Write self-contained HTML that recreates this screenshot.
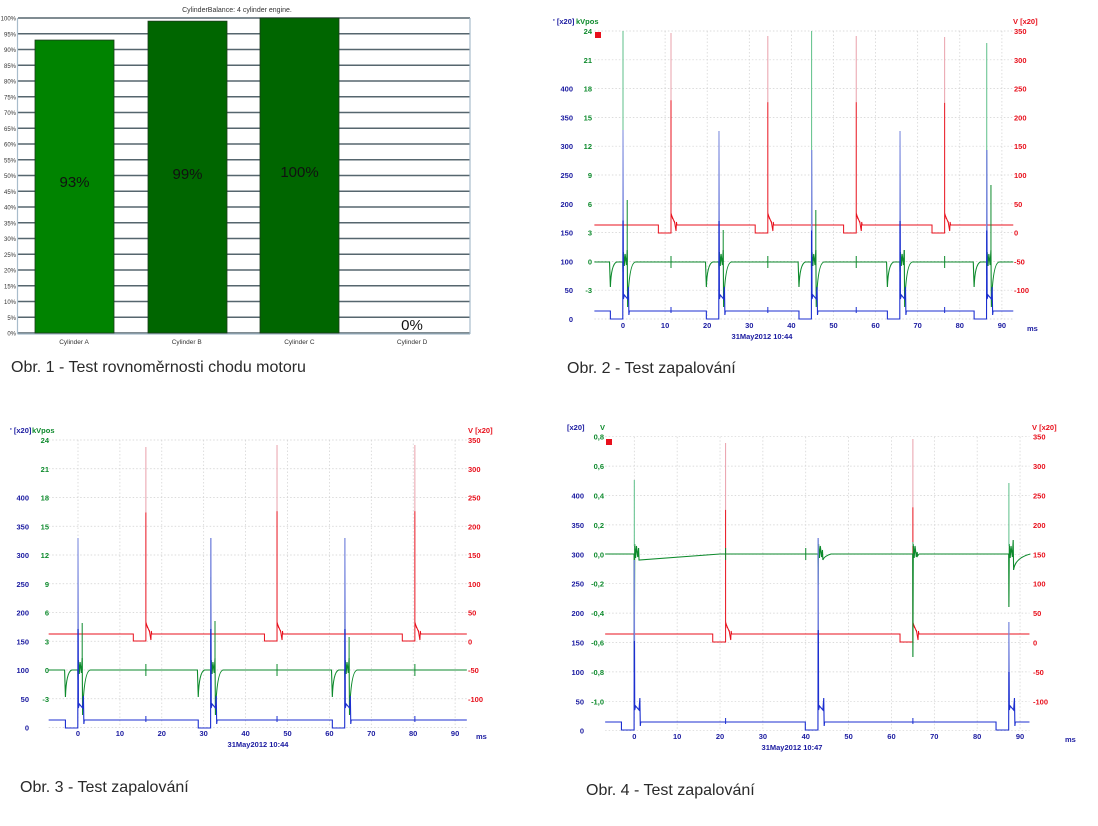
<!DOCTYPE html>
<html><head><meta charset="utf-8"><style>
html,body{margin:0;padding:0;background:#fff}
svg{display:block}
.t{font-family:"Liberation Sans",sans-serif}
.cap{font-family:"Liberation Sans",sans-serif;font-size:16px;fill:#2a2a2a}
.tk{font-family:"Liberation Sans",sans-serif;font-size:7.5px;font-weight:bold}
</style></head><body>
<svg id="s" width="1098" height="826" viewBox="0 0 1098 826" xmlns="http://www.w3.org/2000/svg">
<g id="c1">
<text x="237" y="12" class="t" font-size="7" text-anchor="middle" fill="#333">CylinderBalance: 4 cylinder engine.</text>
</g>
<text x="11" y="372" class="cap">Obr. 1 - Test rovnoměrnosti chodu motoru</text>
<text x="567" y="373" class="cap">Obr. 2 - Test zapalování</text>
<text x="20" y="792" class="cap">Obr. 3 - Test zapalování</text>
<text x="586" y="795" class="cap">Obr. 4 - Test zapalování</text>
</svg>
<script>
var s=document.getElementById('s');var out='';
var c1='';
for(var p=0;p<=100;p+=5){var y=333-p*3.15;
 c1+='<line x1="18" x2="470" y1="'+y+'" y2="'+y+'" stroke="#56666e" stroke-width="1.5"/>';
 c1+='<text x="16" y="'+(y+2.5)+'" class="t" font-size="6" text-anchor="end" fill="#333">'+p+'%</text>';}
c1+='<line x1="17.5" x2="17.5" y1="18" y2="334" stroke="#a8bccb" stroke-width="1.2"/><line x1="470" x2="470" y1="18" y2="334" stroke="#a8bccb" stroke-width="1.2"/><line x1="17.5" x2="470" y1="334" y2="334" stroke="#a8bccb" stroke-width="1.2"/>';
var bars=[[35,93,'#008300','93%',187],[148,99,'#006600','99%',179],[260,100,'#006600','100%',177]];
bars.forEach(function(b){var y=333-b[1]*3.15;c1+='<rect x="'+b[0]+'" y="'+y+'" width="79" height="'+(333-y)+'" fill="'+b[2]+'" stroke="#1a3a1a" stroke-width="0.8"/>';
 c1+='<text x="'+(b[0]+39.5)+'" y="'+b[4]+'" class="t" font-size="15" text-anchor="middle" fill="#111">'+b[3]+'</text>';});
c1+='<text x="412" y="330" class="t" font-size="15" text-anchor="middle" fill="#111">0%</text>';
['A','B','C','D'].forEach(function(l,i){c1+='<text x="'+(74+i*112.7)+'" y="344" class="t" font-size="6.5" text-anchor="middle" fill="#333">Cylinder '+l+'</text>';});
out+=c1;

function scope(c){
 var g='',X=function(t){return c.x0+t*c.k;};
 var xL=X(c.ts),xR=X(c.te);
 for(var i=0;i<=c.n;i++){var y=c.top+i*c.st;g+='<line x1="'+xL+'" x2="'+xR+'" y1="'+y+'" y2="'+y+'" stroke="#d0d0d0" stroke-width="0.7" stroke-dasharray="1.5,2"/>';}
 for(var m=0;m<=90;m+=10){g+='<line x1="'+X(m)+'" x2="'+X(m)+'" y1="'+c.top+'" y2="'+(c.top+c.n*c.st)+'" stroke="#d0d0d0" stroke-width="0.7" stroke-dasharray="1.5,2"/>';
  g+='<text x="'+X(m)+'" y="'+c.xly+'" class="tk" text-anchor="middle" fill="#1a1aa0">'+m+'</text>';}
 c.lab.forEach(function(L){for(var i=0;i<L.v.length;i++){if(L.v[i]==='')continue;var y=c.top+i*c.st+3;
  g+='<text x="'+L.x+'" y="'+y+'" class="tk" text-anchor="'+L.a+'" fill="'+L.c+'">'+L.v[i]+'</text>';}});
 g+=c.extra;
 var rb=c.rb,rd=c.rd,p='M'+xL+','+rb;
 c.re.forEach(function(t){p+=' L'+X(t-3)+','+rb+' L'+X(t-3)+','+rd+' L'+X(t)+','+rd+' L'+X(t)+','+(rb-12)+' L'+X(t+0.4)+','+(rb-6)+' L'+X(t+0.2)+','+(rb-9)+' L'+X(t+0.9)+','+(rb-2)+' L'+X(t+0.8)+','+(rb-4)+' L'+X(t+1.2)+','+(rb+6)+' L'+X(t+1.3)+','+(rb-3)+' L'+X(t+1.4)+','+rb;});
 p+=' L'+xR+','+rb;g+='<path d="'+p+'" fill="none" stroke="#e8101c" stroke-width="1"/>';
 c.re.forEach(function(t,i){var pk=c.rp[i];g+='<line x1="'+X(t)+'" x2="'+X(t)+'" y1="'+pk+'" y2="'+(pk+(rb-pk)*0.35)+'" stroke="#e9a0ab" stroke-width="1"/><line x1="'+X(t)+'" x2="'+X(t)+'" y1="'+(pk+(rb-pk)*0.35)+'" y2="'+(rb-12)+'" stroke="#e8101c" stroke-width="1"/>';});
 var gb=c.gb;p='M'+xL+','+gb;
 c.ge.forEach(function(e){var t=e.t;
  if(e.pre){p+=' L'+X(t-3.2)+','+gb+' L'+X(t-3)+','+e.pre+' Q'+X(t-2.8)+','+(gb+2)+' '+X(t-1.5)+','+gb;}
  p+=' L'+X(t-0.05)+','+gb+' L'+X(t)+','+e.dn+' L'+X(t+0.1)+','+(gb-10)+' L'+X(t+0.3)+','+(gb+4)+' L'+X(t+0.5)+','+(gb-8)+' L'+X(t+0.8)+','+(gb+3)+' L'+X(t+1.0)+','+(e.up2||gb-12)+' L'+X(t+1.1)+','+(e.post||gb+45)+' Q'+X(t+1.4)+','+(e.tailY||gb)+' '+X(t+(e.tailLen||3))+','+gb;
 });
 p+=' L'+xR+','+gb;g+='<path d="'+p+'" fill="none" stroke="#0d8a2c" stroke-width="1.1"/>';
 c.ge.forEach(function(e){g+='<line x1="'+X(e.t)+'" x2="'+X(e.t)+'" y1="'+e.pk+'" y2="'+(gb-8)+'" stroke="#5cbf88" stroke-width="1"/>';
  if(e.pk2)g+='<line x1="'+X(e.t+1)+'" x2="'+X(e.t+1)+'" y1="'+e.pk2+'" y2="'+gb+'" stroke="#0d8a2c" stroke-width="1"/>';});
 (c.gn||[]).forEach(function(t){g+='<line x1="'+X(t)+'" x2="'+X(t)+'" y1="'+(gb-6)+'" y2="'+(gb+6)+'" stroke="#0d8a2c" stroke-width="1"/>';});
 var bb=c.bb,b0=c.b0;p='M'+xL+','+bb;
 c.be.forEach(function(e){var t=e.t;p+=' L'+X(t-3)+','+bb+' L'+X(t-3)+','+b0+' L'+X(t-0.05)+','+b0+' L'+X(t)+','+e.pk+' L'+X(t+0.1)+','+(bb-12)+' L'+X(t+0.3)+','+(bb-16)+' L'+X(t+1.1)+','+(bb-12)+' L'+X(t+1.3)+','+(bb-24)+' L'+X(t+1.4)+','+(bb+4)+' L'+X(t+1.5)+','+bb;});
 p+=' L'+xR+','+bb;g+='<path d="'+p+'" fill="none" stroke="#1c2fd0" stroke-width="1.1"/>';
 c.be.forEach(function(e){g+='<line x1="'+X(e.t)+'" x2="'+X(e.t)+'" y1="'+e.pk+'" y2="'+(e.pk+(bb-e.pk)*0.5)+'" stroke="#8c9ae0" stroke-width="1"/>';});
 (c.bn||[]).forEach(function(t){g+='<line x1="'+X(t)+'" x2="'+X(t)+'" y1="'+(bb-4)+'" y2="'+(bb+2)+'" stroke="#1c2fd0" stroke-width="1"/>';});
 return g;
}
out+=scope({x0:623,k:4.21,ts:-6.8,te:92.7,top:31,st:28.8,n:10,xly:328,
 lab:[{x:573,a:'end',c:'#1a1aa0',v:['','','400','350','300','250','200','150','100','50','0']},
      {x:592,a:'end',c:'#0d8a2c',v:['24','21','18','15','12','9','6','3','0','-3','']},
      {x:1014,a:'start',c:'#e8101c',v:['350','300','250','200','150','100','50','0','-50','-100','']}],
 extra:'<text x="553" y="24" class="tk" fill="#1a1aa0">\' [x20]</text><text x="576" y="24" class="tk" fill="#0d8a2c">kVpos</text><text x="1013" y="24" class="tk" fill="#e8101c">V [x20]</text><rect x="595" y="32" width="6" height="6" fill="#e8101c"/><text x="1027" y="331" class="tk" fill="#1a1aa0">ms</text><text x="762" y="339" class="tk" text-anchor="middle" fill="#1a1aa0">31May2012  10:44</text>',
 rb:225,rd:233,re:[11.4,34.4,55.4,76.4],rp:[33,36,36,37],
 gb:262,ge:[{t:0,pk:31,dn:272,pre:287,pk2:200},{t:22.8,pk:213,dn:270,pre:287,pk2:230},{t:44.8,pk:31,dn:275,pre:287,pk2:210},{t:65.8,pk:213,dn:272,pre:287,pk2:250},{t:86.4,pk:43,dn:275,pre:287,pk2:185}],
 gn:[11.4,34.4,55.4,76.4],
 bb:311,b0:319,be:[{t:0,pk:130},{t:22.8,pk:131},{t:44.8,pk:150},{t:65.8,pk:131},{t:86.4,pk:150}],bn:[11.4,34.4,55.4,76.4]});
out+=scope({x0:78,k:4.19,ts:-7,te:92.8,top:440,st:28.75,n:10,xly:736,
 lab:[{x:29,a:'end',c:'#1a1aa0',v:['','','400','350','300','250','200','150','100','50','0']},
      {x:49,a:'end',c:'#0d8a2c',v:['24','21','18','15','12','9','6','3','0','-3','']},
      {x:468,a:'start',c:'#e8101c',v:['350','300','250','200','150','100','50','0','-50','-100','']}],
 extra:'<text x="10" y="433" class="tk" fill="#1a1aa0">\' [x20]</text><text x="32" y="433" class="tk" fill="#0d8a2c">kVpos</text><text x="468" y="433" class="tk" fill="#e8101c">V [x20]</text><text x="476" y="739" class="tk" fill="#1a1aa0">ms</text><text x="258" y="747" class="tk" text-anchor="middle" fill="#1a1aa0">31May2012  10:44</text>',
 rb:634,rd:641,re:[16.2,47.5,80.4],rp:[447,445,445],
 gb:670,ge:[{t:0,pk:600,dn:680,pre:697,pk2:623},{t:31.7,pk:577,dn:680,pre:697,pk2:621},{t:63.7,pk:612,dn:680,pre:697,pk2:637}],
 gn:[16.2,47.5,80.4],
 bb:720,b0:728,be:[{t:0,pk:538},{t:31.7,pk:538},{t:63.7,pk:538}],bn:[16.2,47.5,80.4]});
out+=scope({x0:634.3,k:4.286,ts:-6.8,te:92.2,top:436.7,st:29.4,n:10,xly:739,
 lab:[{x:584,a:'end',c:'#1a1aa0',v:['','','400','350','300','250','200','150','100','50','0']},
      {x:604,a:'end',c:'#0d8a2c',v:['0,8','0,6','0,4','0,2','0,0','-0,2','-0,4','-0,6','-0,8','-1,0','']},
      {x:1033,a:'start',c:'#e8101c',v:['350','300','250','200','150','100','50','0','-50','-100','']}],
 extra:'<text x="567" y="430" class="tk" fill="#1a1aa0">[x20]</text><text x="600" y="430" class="tk" fill="#0d8a2c">V</text><text x="1032" y="430" class="tk" fill="#e8101c">V [x20]</text><rect x="606" y="439" width="6" height="6" fill="#e8101c"/><text x="1065" y="742" class="tk" fill="#1a1aa0">ms</text><text x="792" y="750" class="tk" text-anchor="middle" fill="#1a1aa0">31May2012  10:47</text>',
 rb:634,rd:642,re:[21.3,65],rp:[443,439],
 gb:554,ge:[{t:0,pk:480,dn:672,up2:548,post:560,tailY:560,tailLen:20},{t:42.9,pk:540,dn:585,up2:550,post:560,tailY:556,tailLen:3},{t:65,pk:542,dn:657,up2:552,post:556,tailY:554,tailLen:1.5},{t:87.4,pk:483,dn:607,up2:540,post:570,tailY:558,tailLen:5}],
 gn:[21.3,40],
 bb:722,b0:730,be:[{t:0,pk:560},{t:42.9,pk:538},{t:87.4,pk:622}],bn:[21.3,65]});
s.insertAdjacentHTML('beforeend',out);
</script>
</body></html>
